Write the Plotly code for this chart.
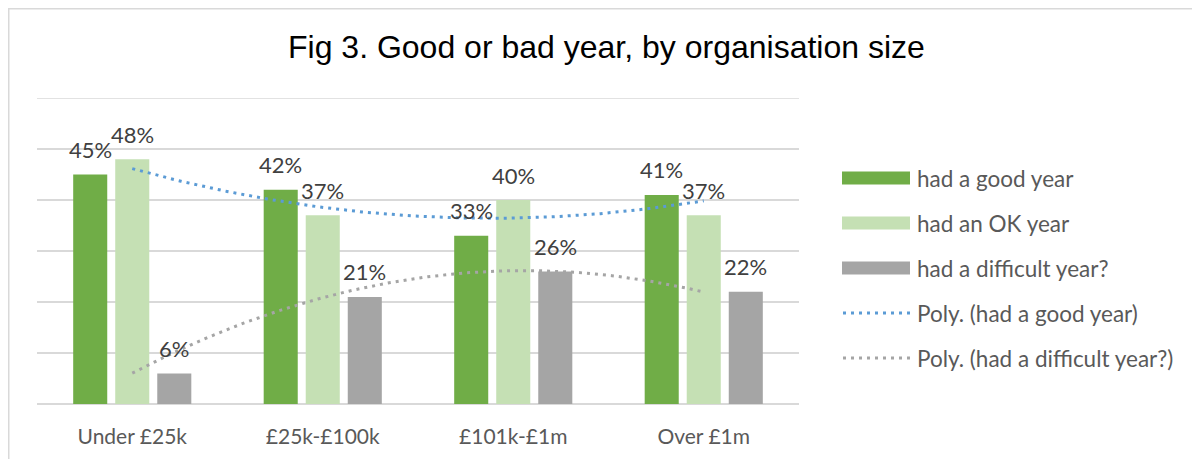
import numpy as np
import plotly.graph_objects as go

categories = ["Under £25k", "£25k-£100k", "£101k-£1m", "Over £1m"]
good_year = [0.45, 0.42, 0.33, 0.41]
ok_year = [0.48, 0.37, 0.40, 0.37]
difficult_year = [0.06, 0.21, 0.26, 0.22]
series_names = ["had a good year", "had an OK year", "had a difficult year?"]
trend_names = ["Poly. (had a good year)", "Poly. (had a difficult year?)"]
title_text = "Fig 3. Good or bad year, by organisation size"

colors = ["#70AD47", "#C5E0B4", "#A5A5A5"]
trend_colors = ["#5B9BD5", "#A5A5A5"]

# the page body has an 8px margin, so the figure is offset by 8px
OFF = 8
W, H = 1184, 451
ML, MR, MT, MB = 29, 393, 90, 55
PW, PH = W - ML - MR, H - MT - MB


def px(xs_):
    return (xs_ - OFF - ML) / PW


def py(ys_):
    return (H - MB - (ys_ - OFF)) / PH


xpos = np.arange(len(categories))
fig = go.Figure()

all_series = [good_year, ok_year, difficult_year]
for name, vals, col in zip(series_names, all_series, colors):
    fig.add_trace(go.Bar(x=xpos, y=vals, name=name, marker=dict(color=col, line=dict(width=0)),
                         showlegend=False, hoverinfo="skip"))

# Polynomial (order 2) trendlines, as Excel computes them
xs = np.linspace(0, len(categories) - 1, 200)
for vals, col, name in [(good_year, trend_colors[0], trend_names[0]),
                        (difficult_year, trend_colors[1], trend_names[1])]:
    coef = np.polyfit(xpos, vals, 2)
    fig.add_trace(go.Scatter(x=xs, y=np.polyval(coef, xs), mode="lines", name=name,
                             line=dict(color=col, width=3, dash="3px,5px"),
                             showlegend=False, hoverinfo="skip"))

# data labels
slot = 0.2207
annotations = []
for k, vals in enumerate(all_series):
    for i, v in enumerate(vals):
        annotations.append(dict(x=xpos[i] + (k - 1) * slot, y=v, xref="x", yref="y",
                                text=f"{round(v * 100)}%", showarrow=False,
                                yanchor="middle", yshift=25,
                                font=dict(family="Lato", size=22, color="#404040")))

# title
annotations.append(dict(x=px(606), y=py(47), xref="paper", yref="paper", text=title_text,
                        showarrow=False, xanchor="center", yanchor="middle",
                        font=dict(family="Liberation Sans, Arial", size=32, color="#000000")))

# custom legend
shapes = []
rows = [178, 223, 268, 313, 358]
for r, col in zip(rows[:3], colors):
    shapes.append(dict(type="rect", xref="paper", yref="paper", x0=px(842), x1=px(910),
                       y0=py(r + 6.5), y1=py(r - 6.5), fillcolor=col, line=dict(width=0)))
for r, col in zip(rows[3:], trend_colors):
    shapes.append(dict(type="line", xref="paper", yref="paper", x0=px(843), x1=px(911),
                       y0=py(r), y1=py(r), line=dict(color=col, width=3, dash="3px,5px")))
legend_texts = series_names + trend_names
for r, t in zip(rows, legend_texts):
    annotations.append(dict(x=px(915), y=py(r), xref="paper", yref="paper", text=t,
                            showarrow=False, xanchor="left", yanchor="middle",
                            font=dict(family="Lato", size=22.5, color="#595959")))

# top gridline (60%)
shapes.append(dict(type="line", xref="paper", yref="y", x0=0, x1=1, y0=0.6, y1=0.6,
                   line=dict(color="#D9D9D9", width=1.5), layer="below"))

# chart border
shapes.append(dict(type="rect", xref="paper", yref="paper", x0=px(8.5), x1=px(1230),
                   y0=py(480), y1=py(8.5), line=dict(color="#D9D9D9", width=2), layer="below"))

fig.update_layout(
    width=W, height=H,
    margin=dict(l=ML, r=MR, t=MT, b=MB, autoexpand=False),
    paper_bgcolor="white", plot_bgcolor="white",
    barmode="group", bargap=0.338, bargroupgap=0.19,
    showlegend=False,
    xaxis=dict(range=[-0.5, len(categories) - 0.5], tickmode="array", tickvals=xpos,
               ticktext=categories, showgrid=False, zeroline=False, showline=False,
               ticks="", ticklabelstandoff=18, automargin=False,
               tickfont=dict(family="Lato", size=21, color="#595959")),
    yaxis=dict(range=[0, 0.6], dtick=0.1, showticklabels=False, showgrid=True,
               gridcolor="#D9D9D9", gridwidth=1.5, zeroline=True, zerolinecolor="#D9D9D9",
               zerolinewidth=1.5, showline=False, automargin=False),
    annotations=annotations,
    shapes=shapes,
)

fig.write_html("out.html")
